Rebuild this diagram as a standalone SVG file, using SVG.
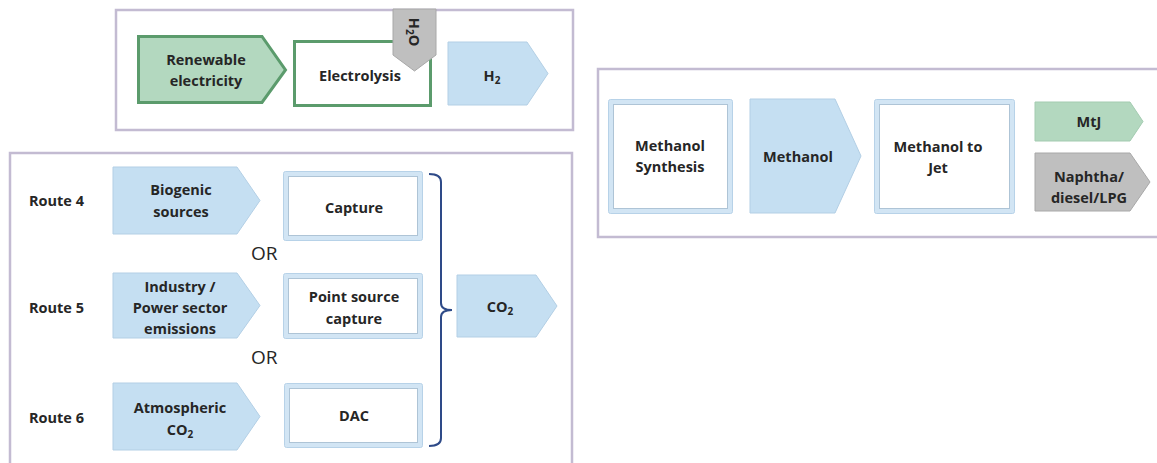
<svg xmlns="http://www.w3.org/2000/svg" width="1157" height="463" viewBox="0 0 1157 463">
  <style>
    .panel { fill: #ffffff; stroke: #c3bbd2; stroke-width: 2.5; }
    .blue { fill: #c5dff2; stroke: #b3cfe5; stroke-width: 1; }
    .green { fill: #b3d8bf; stroke: #5b9b6c; stroke-width: 3; }
    .greenlight { fill: #b3d8bf; stroke: #a3cbb0; stroke-width: 1; }
    .grey { fill: #bfbfbf; stroke: #a8a8a8; stroke-width: 1; }
    .frame { fill: #d2e5f4; stroke: #b7d2e8; stroke-width: 1; }
    .inner { fill: #ffffff; stroke: #aec4d6; stroke-width: 1; }
    .whitegreen { fill: #ffffff; stroke: #5b9b6c; stroke-width: 3; }
    .brace { fill: none; stroke: #2e4a88; stroke-width: 2; }
    text { font-family: "Open Sans", "Liberation Sans", sans-serif; font-size: 14.5px; font-weight: 700; fill: #262626; }
    .c { text-anchor: middle; }
    .or { font-weight: 400; font-size: 19px; }
    .sub { font-size: 10px; }
  </style>

  <!-- panels -->
  <g id="panels">
    <rect class="panel" x="116" y="10" width="457" height="120"/>
    <rect class="panel" x="10" y="153" width="562" height="330"/>
    <rect class="panel" x="598" y="69" width="580" height="168"/>
  </g>

  <!-- hydrogen chain -->
  <g id="renewable">
    <polygon class="green" points="138.5,36.5 262,36.5 285.5,70 262,102.5 138.5,102.5"/>
    <text class="c" x="206" y="65">Renewable</text>
    <text class="c" x="206" y="86">electricity</text>
  </g>
  <g id="electrolysis">
    <rect class="whitegreen" x="294.5" y="41.5" width="136" height="64"/>
    <text class="c" x="360" y="81">Electrolysis</text>
  </g>
  <g id="water">
    <polygon class="grey" points="393,9 436,9 436,55 414.5,71 393,55"/>
    <text transform="translate(409,32) rotate(90)" class="c">H<tspan class="sub" dy="3">2</tspan><tspan dy="-3">O</tspan></text>
  </g>
  <g id="hydrogen">
    <polygon class="blue" points="448,42 527,42 548,73.5 527,105 448,105"/>
    <text class="c" x="492" y="81">H<tspan class="sub" dy="3">2</tspan></text>
  </g>

  <!-- CO2 routes -->
  <g id="route-labels">
    <text x="29" y="206">Route 4</text>
    <text x="29" y="313">Route 5</text>
    <text x="29" y="423">Route 6</text>
  </g>
  <g id="biogenic">
    <polygon class="blue" points="113,167 237,167 260,200.5 237,234 113,234"/>
    <text class="c" x="181" y="195">Biogenic</text>
    <text class="c" x="181" y="217">sources</text>
  </g>
  <g id="industry">
    <polygon class="blue" points="113,273 237,273 260,305.5 237,338 113,338"/>
    <text class="c" x="180" y="292">Industry /</text>
    <text class="c" x="180" y="313">Power sector</text>
    <text class="c" x="180" y="334">emissions</text>
  </g>
  <g id="atmospheric">
    <polygon class="blue" points="113,383 237,383 260,416.5 237,450 113,450"/>
    <text class="c" x="180" y="413">Atmospheric</text>
    <text class="c" x="180" y="435">CO<tspan class="sub" dy="3">2</tspan></text>
  </g>
  <g id="capture">
    <rect class="frame" x="283.5" y="171.5" width="139" height="69" rx="2"/>
    <rect class="inner" x="288.5" y="176.5" width="129" height="59"/>
    <text class="c" x="354" y="213">Capture</text>
  </g>
  <g id="point-source">
    <rect class="frame" x="283.5" y="273.5" width="139" height="65" rx="2"/>
    <rect class="inner" x="288.5" y="278.5" width="129" height="55"/>
    <text class="c" x="354" y="302">Point source</text>
    <text class="c" x="354" y="324">capture</text>
  </g>
  <g id="dac">
    <rect class="frame" x="284.5" y="383.5" width="138" height="64" rx="2"/>
    <rect class="inner" x="289.5" y="388.5" width="128" height="54"/>
    <text class="c" x="354" y="421">DAC</text>
  </g>
  <g id="or-labels">
    <text class="or" x="251" y="260">OR</text>
    <text class="or" x="251" y="364">OR</text>
  </g>
  <g id="co2">
    <polygon class="blue" points="457,275 536,275 557,306 536,337 457,337"/>
    <text class="c" x="500" y="312">CO<tspan class="sub" dy="3">2</tspan></text>
  </g>

  <!-- methanol chain -->
  <g id="methanol-synthesis">
    <rect class="frame" x="608.5" y="99.5" width="124" height="114" rx="2"/>
    <rect class="inner" x="613.5" y="104.5" width="114" height="104"/>
    <text class="c" x="670" y="151">Methanol</text>
    <text class="c" x="670" y="172">Synthesis</text>
  </g>
  <g id="methanol">
    <polygon class="blue" points="750,99 835,99 861,156 835,213 750,213"/>
    <text class="c" x="798" y="162">Methanol</text>
  </g>
  <g id="methanol-to-jet">
    <rect class="frame" x="874.5" y="99.5" width="140" height="114" rx="2"/>
    <rect class="inner" x="879.5" y="104.5" width="130" height="104"/>
    <text class="c" x="938" y="152">Methanol to</text>
    <text class="c" x="938" y="173">Jet</text>
  </g>
  <g id="mtj">
    <polygon class="greenlight" points="1035,102 1130,102 1143,121.5 1130,141 1035,141"/>
    <text class="c" x="1089" y="127">MtJ</text>
  </g>
  <g id="naphtha">
    <polygon class="grey" points="1035,153 1130,153 1150,182 1130,211 1035,211"/>
    <text class="c" x="1089" y="182">Naphtha/</text>
    <text class="c" x="1089" y="203">diesel/LPG</text>
  </g>

  <!-- connectors -->
  <g id="connectors">
    <path class="brace" d="M429,174 Q441,174 441,182 V303 Q441,310 452,310 M452,310 Q441,310 441,317 V438 Q441,446 429,446"/>
  </g>
</svg>
